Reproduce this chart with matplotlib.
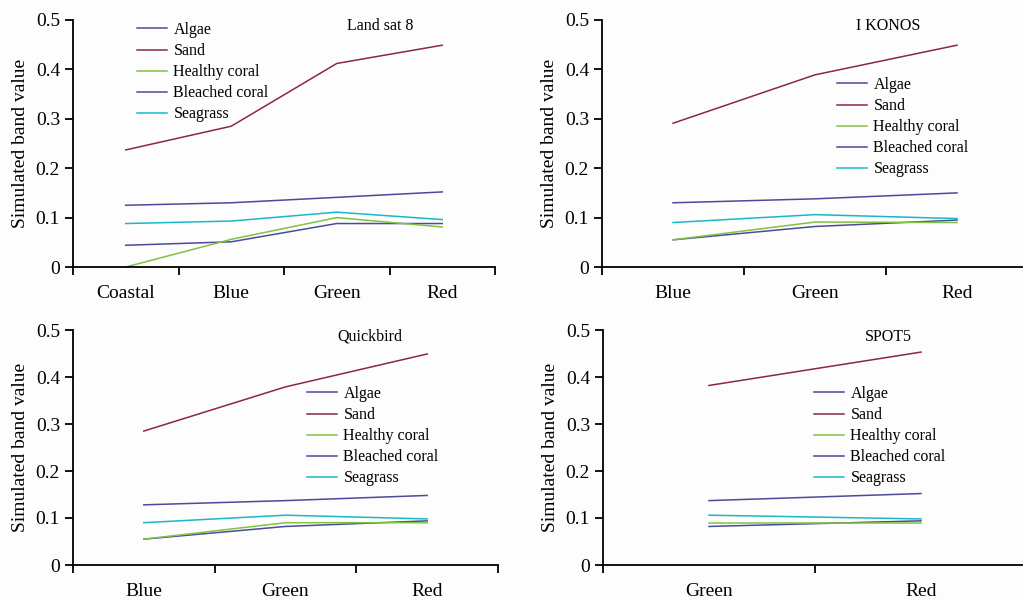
import matplotlib
matplotlib.use('Agg')
import matplotlib.pyplot as plt

plt.rcParams['font.family'] = ['Liberation Serif', 'DejaVu Serif']

# band names per sensor
bands_l8 = ['Coastal', 'Blue', 'Green', 'Red']
bands_ik = ['Blue', 'Green', 'Red']
bands_qb = ['Blue', 'Green', 'Red']
bands_sp = ['Green', 'Red']

classes = ['Algae', 'Sand', 'Healthy coral', 'Bleached coral', 'Seagrass']

# simulated band values, one list per class
l8_algae = [0.044, 0.051, 0.088, 0.088]
l8_sand = [0.237, 0.285, 0.412, 0.449]
l8_healthy = [0.0, 0.056, 0.100, 0.081]
l8_bleached = [0.125, 0.130, 0.141, 0.152]
l8_seagrass = [0.088, 0.093, 0.111, 0.096]

ik_algae = [0.055, 0.082, 0.095]
ik_sand = [0.291, 0.389, 0.449]
ik_healthy = [0.055, 0.091, 0.090]
ik_bleached = [0.130, 0.138, 0.150]
ik_seagrass = [0.090, 0.106, 0.098]

qb_algae = [0.055, 0.082, 0.094]
qb_sand = [0.285, 0.379, 0.449]
qb_healthy = [0.055, 0.090, 0.090]
qb_bleached = [0.128, 0.137, 0.148]
qb_seagrass = [0.090, 0.106, 0.098]

sp_algae = [0.082, 0.094]
sp_sand = [0.382, 0.453]
sp_healthy = [0.090, 0.090]
sp_bleached = [0.137, 0.152]
sp_seagrass = [0.106, 0.098]

colors = ['#4b4b9c', '#8b2455', '#80c241', '#4b4b9c', '#18b8c8']

W, H = 1023, 601
fig = plt.figure(figsize=(W / 100, H / 100), dpi=100, facecolor='#fdfdfd')


def px_axes(left, right, top, bottom):
    return fig.add_axes([left / W, 1 - bottom / H, (right - left) / W, (bottom - top) / H])


def panel(ax, bands, series, name, name_xy, leg_xy):
    n = len(bands)
    x = list(range(n))
    for vals, lab, c in zip(series, classes, colors):
        ax.plot(x, vals, color=c, lw=1.1, label=lab)
    ax.set_xlim(-0.5, n - 0.5)
    ax.set_ylim(0, 0.5)
    ax.set_facecolor('#fdfdfd')
    for s in ['top', 'right']:
        ax.spines[s].set_visible(False)
    for s in ['left', 'bottom']:
        ax.spines[s].set_linewidth(1.3)
    # boundaries get the tick marks, centres get the labels
    ax.set_xticks([i - 0.5 for i in range(n + 1)])
    ax.set_xticklabels([])
    ax.set_xticks(x, minor=True)
    ax.set_xticklabels(bands, minor=True, fontsize=14)
    ax.tick_params(axis='x', which='major', direction='out', length=5.8, width=1.3)
    ax.tick_params(axis='x', which='minor', length=0, pad=13)
    ax.set_yticks([0, 0.1, 0.2, 0.3, 0.4, 0.5])
    ax.set_yticklabels(['0', '0.1', '0.2', '0.3', '0.4', '0.5'], fontsize=14)
    ax.tick_params(axis='y', direction='out', length=5.8, width=1.3, pad=3.5)
    ax.set_ylabel('Simulated band value', fontsize=14, labelpad=4.5)
    for lab in ax.get_xticklabels(minor=True) + ax.get_yticklabels():
        lab.set_clip_on(False)
    fig.text(name_xy[0] / W, 1 - name_xy[1] / H, name, fontsize=11.5,
             ha='center', va='center')
    ax.legend(loc='upper left', bbox_to_anchor=(leg_xy[0] / W, 1 - leg_xy[1] / H),
              bbox_transform=fig.transFigure, frameon=False, fontsize=11.5,
              handlelength=1.9, handletextpad=0.38, labelspacing=0.32,
              borderpad=0, borderaxespad=0)


ax1 = px_axes(73, 495, 20, 267)
panel(ax1, bands_l8, [l8_algae, l8_sand, l8_healthy, l8_bleached, l8_seagrass],
      'Land sat 8', (380, 26), (137, 22))

ax2 = px_axes(602, 1028, 20, 267)
panel(ax2, bands_ik, [ik_algae, ik_sand, ik_healthy, ik_bleached, ik_seagrass],
      'I KONOS', (888, 26), (837, 77))

ax3 = px_axes(73, 498, 330, 565)
panel(ax3, bands_qb, [qb_algae, qb_sand, qb_healthy, qb_bleached, qb_seagrass],
      'Quickbird', (370, 337), (307, 386))

ax4 = px_axes(603, 1027, 330, 565)
panel(ax4, bands_sp, [sp_algae, sp_sand, sp_healthy, sp_bleached, sp_seagrass],
      'SPOT5', (888, 337), (814, 386))

fig.savefig('out.png', dpi=100, facecolor=fig.get_facecolor())
